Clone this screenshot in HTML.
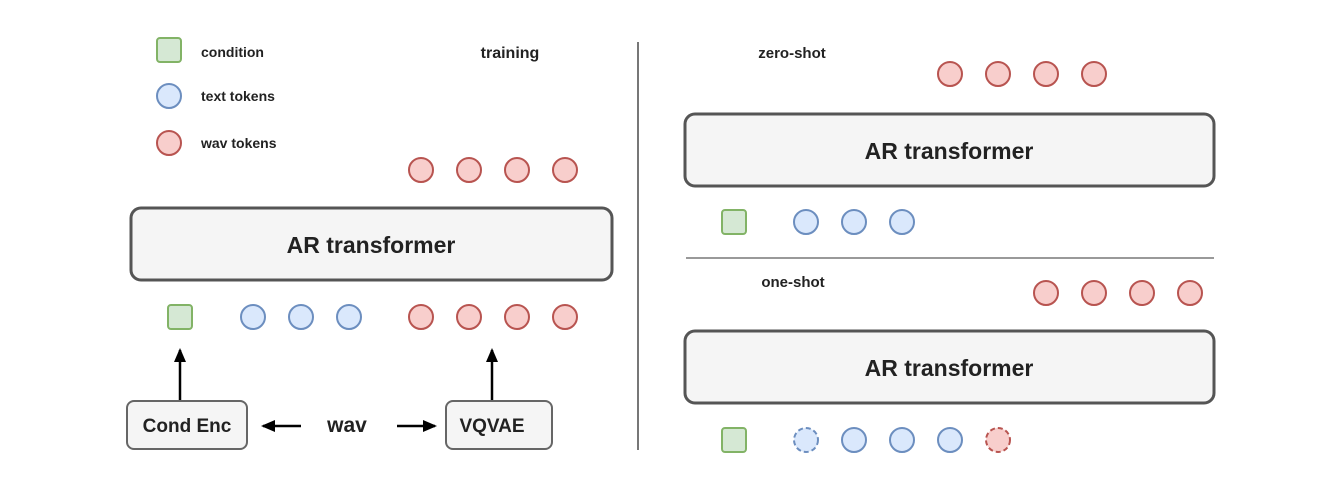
<!DOCTYPE html>
<html><head><meta charset="utf-8"><style>
html,body{margin:0;padding:0;background:#fff;width:1338px;height:484px;overflow:hidden}
text{font-family:"Liberation Sans",Arial,sans-serif;font-weight:bold;fill:#222}
</style></head><body>
<svg width="1338" height="484" viewBox="0 0 1338 484" xmlns="http://www.w3.org/2000/svg">
<defs>
<g id="sq"><rect x="-12" y="-12" width="24" height="24" rx="3" fill="#d5e8d4" stroke="#82b366" stroke-width="2"/></g>
<g id="bc"><circle r="12" fill="#dae8fc" stroke="#6c8ebf" stroke-width="2"/></g>
<g id="rc"><circle r="12" fill="#f8cecc" stroke="#b85450" stroke-width="2"/></g>
<marker id="ah" markerWidth="14" markerHeight="14" refX="12" refY="7" orient="auto" markerUnits="userSpaceOnUse"><path d="M0,1 L14,7 L0,13 Z" fill="#000"/></marker>
</defs>
<use href="#sq" x="169" y="50"/>
<use href="#bc" x="169" y="96"/>
<use href="#rc" x="169" y="143"/>
<text x="201" y="57" font-size="14">condition</text>
<text x="201" y="101" font-size="14">text tokens</text>
<text x="201" y="148" font-size="14">wav tokens</text>
<text x="510" y="58" font-size="16" text-anchor="middle">training</text>
<use href="#rc" x="421" y="170"/><use href="#rc" x="469" y="170"/><use href="#rc" x="517" y="170"/><use href="#rc" x="565" y="170"/>
<rect x="131" y="208" width="481" height="72" rx="10" fill="#f5f5f5" stroke="#555" stroke-width="3"/>
<text x="371" y="253" font-size="23" text-anchor="middle" fill="#333">AR transformer</text>
<use href="#sq" x="180" y="317"/>
<use href="#bc" x="253" y="317"/><use href="#bc" x="301" y="317"/><use href="#bc" x="349" y="317"/>
<use href="#rc" x="421" y="317"/><use href="#rc" x="469" y="317"/><use href="#rc" x="517" y="317"/><use href="#rc" x="565" y="317"/>
<line x1="180" y1="400" x2="180" y2="350" stroke="#000" stroke-width="2.5" marker-end="url(#ah)"/>
<line x1="492" y1="400" x2="492" y2="350" stroke="#000" stroke-width="2.5" marker-end="url(#ah)"/>
<rect x="127" y="401" width="120" height="48" rx="7" fill="#f5f5f5" stroke="#666" stroke-width="2"/>
<text x="187" y="432" font-size="19" text-anchor="middle" fill="#333">Cond Enc</text>
<rect x="446" y="401" width="106" height="48" rx="7" fill="#f5f5f5" stroke="#666" stroke-width="2"/>
<text x="492" y="432" font-size="19" text-anchor="middle" fill="#333">VQVAE</text>
<text x="347" y="432" font-size="21" text-anchor="middle" fill="#111">wav</text>
<line x1="301" y1="426" x2="263" y2="426" stroke="#000" stroke-width="2.5" marker-end="url(#ah)"/>
<line x1="397" y1="426" x2="435" y2="426" stroke="#000" stroke-width="2.5" marker-end="url(#ah)"/>
<line x1="638" y1="42" x2="638" y2="450" stroke="#777" stroke-width="2"/>
<text x="792" y="58" font-size="15" text-anchor="middle">zero-shot</text>
<use href="#rc" x="950" y="74"/><use href="#rc" x="998" y="74"/><use href="#rc" x="1046" y="74"/><use href="#rc" x="1094" y="74"/>
<rect x="685" y="114" width="529" height="72" rx="10" fill="#f5f5f5" stroke="#555" stroke-width="3"/>
<text x="949" y="159" font-size="23" text-anchor="middle" fill="#333">AR transformer</text>
<use href="#sq" x="734" y="222"/>
<use href="#bc" x="806" y="222"/><use href="#bc" x="854" y="222"/><use href="#bc" x="902" y="222"/>
<line x1="686" y1="258" x2="1214" y2="258" stroke="#999" stroke-width="2"/>
<text x="793" y="287" font-size="15" text-anchor="middle">one-shot</text>
<use href="#rc" x="1046" y="293"/><use href="#rc" x="1094" y="293"/><use href="#rc" x="1142" y="293"/><use href="#rc" x="1190" y="293"/>
<rect x="685" y="331" width="529" height="72" rx="10" fill="#f5f5f5" stroke="#555" stroke-width="3"/>
<text x="949" y="376" font-size="23" text-anchor="middle" fill="#333">AR transformer</text>
<use href="#sq" x="734" y="440"/>
<circle cx="806" cy="440" r="12" fill="#dae8fc" stroke="#6c8ebf" stroke-width="2" stroke-dasharray="5,3"/>
<use href="#bc" x="854" y="440"/><use href="#bc" x="902" y="440"/><use href="#bc" x="950" y="440"/>
<circle cx="998" cy="440" r="12" fill="#f8cecc" stroke="#b85450" stroke-width="2" stroke-dasharray="5,3"/>
</svg>
</body></html>
